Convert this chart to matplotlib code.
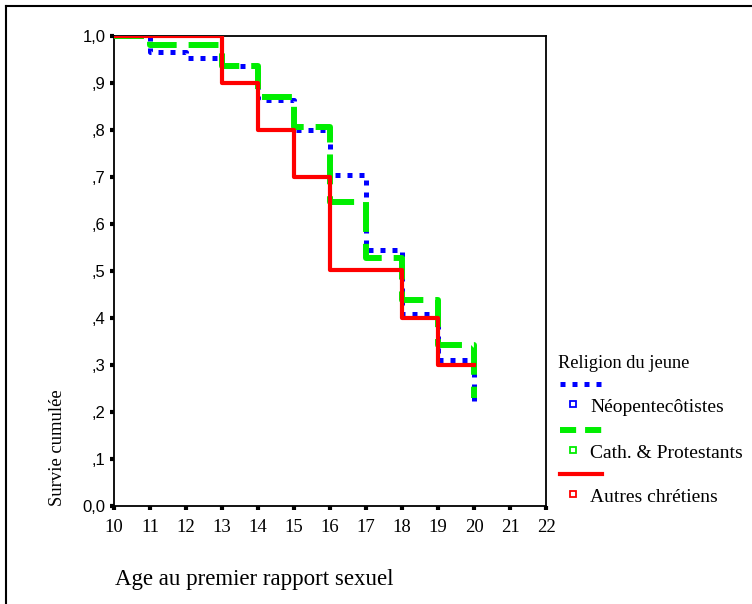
import matplotlib
matplotlib.use('Agg')
import matplotlib.pyplot as plt
from matplotlib.lines import Line2D

# temps (age) et survie cumulee
age_neo = [10, 11, 12, 13, 14, 15, 16, 17, 18, 19, 20]
surv_neo = [1.0, 0.966, 0.953, 0.936, 0.864, 0.80, 0.704, 0.545, 0.408, 0.31, 0.215]

age_cath = [10, 11, 13, 14, 15, 16, 17, 18, 19, 20]
surv_cath = [1.0, 0.98, 0.936, 0.87, 0.806, 0.647, 0.528, 0.438, 0.343, 0.23]

age_autres = [10, 13, 14, 15, 16, 18, 19, 20]
surv_autres = [1.0, 0.90, 0.80, 0.70, 0.502, 0.40, 0.30, 0.30]

groupes = ['Néopentecôtistes', 'Cath. & Protestants', 'Autres chrétiens']
couleurs = ['#0000ff', '#00ee00', '#ff0000']

x_ticks = list(range(10, 23))
y_ticks = [0.0, 0.1, 0.2, 0.3, 0.4, 0.5, 0.6, 0.7, 0.8, 0.9, 1.0]
y_labels = ['0,0', ',1', ',2', ',3', ',4', ',5', ',6', ',7', ',8', ',9', '1,0']

W, H = 752, 604
fig = plt.figure(figsize=(W / 100, H / 100), dpi=100)
ax = fig.add_axes([114 / W, 1 - 506 / H, (546 - 114) / W, (506 - 36) / H])


def px(x, y):
    return x / W, 1 - y / H


ax.step(age_neo, surv_neo, where='post', color=couleurs[0], lw=3.6,
        linestyle=(0, (1, 1.4)), dash_capstyle='butt', zorder=3)
ax.step(age_cath, surv_cath, where='post', color=couleurs[1], lw=4.3,
        linestyle=(0, (5, 2)), dash_capstyle='butt', zorder=4)
ax.step(age_autres, surv_autres, where='post', color=couleurs[2], lw=3.0,
        zorder=5)

ax.set_xlim(10, 22)
ax.set_ylim(0, 1)
ax.set_xticks(x_ticks)
ax.set_xticklabels([str(t) for t in x_ticks], family='Liberation Serif', fontsize=13.5)
ax.set_yticks(y_ticks)
ax.set_yticklabels(y_labels, family='Liberation Sans', fontsize=12)
ax.tick_params(direction='out', length=3, width=3, color='black', pad=3)
ax.tick_params(axis='x', pad=6)
for s in ax.spines.values():
    s.set_linewidth(1.3)

fig.text(*px(57, 448), 'Survie cumulée', rotation=90, ha='center', va='center',
         family='Liberation Serif', fontsize=13.4)
fig.text(*px(115, 580), 'Age au premier rapport sexuel', ha='left', va='center',
         family='Liberation Serif', fontsize=16.5)

# legende a la SPSS
fig.text(*px(558, 363), 'Religion du jeune', ha='left', va='center',
         family='Liberation Serif', fontsize=13.2)
styles = [dict(lw=3.6, linestyle=(0, (1, 1.4)), dash_capstyle='butt'),
          dict(lw=4.3, linestyle=(0, (2.7, 1.5)), dash_capstyle='butt'),
          dict(lw=3.0)]
lignes_y = [384, 430, 474]
for nom, c, st, ly in zip(groupes, couleurs, styles, lignes_y):
    x0, y0 = px(560, ly)
    x1, _ = px(602, ly)
    fig.add_artist(Line2D([x0, x1], [y0, y0], color=c, transform=fig.transFigure, **st))
    mx, my = px(573, ly + 20)
    fig.add_artist(Line2D([mx], [my], marker='s', markersize=5, markerfacecolor='white',
                          markeredgecolor=c, markeredgewidth=1.3, linestyle='none',
                          transform=fig.transFigure))
    fig.text(*px(590, ly + 23), nom, ha='left', va='center',
             family='Liberation Serif', fontsize=14)

# cadre exterieur
bx, by = px(6, 6)
fig.add_artist(Line2D([bx, bx], [0, by], color='black', lw=1.5, transform=fig.transFigure))
fig.add_artist(Line2D([bx, 1], [by, by], color='black', lw=1.5, transform=fig.transFigure))

fig.savefig('out.png', dpi=100)
